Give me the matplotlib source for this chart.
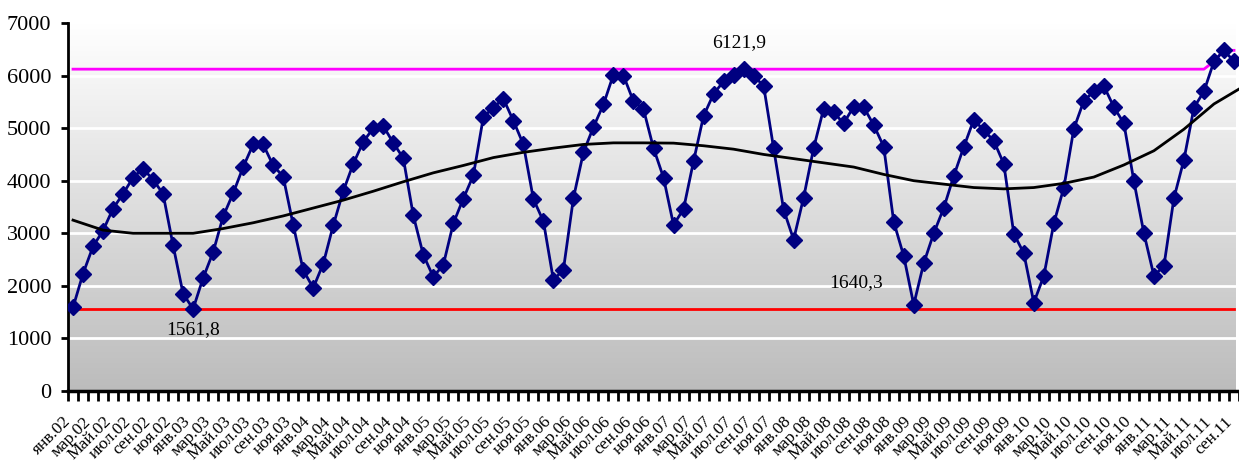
import numpy as np
import matplotlib
matplotlib.use("Agg")
import matplotlib.pyplot as plt
from matplotlib.colors import LinearSegmentedColormap
from matplotlib.transforms import ScaledTranslation

SERIF = ['Liberation Serif', 'DejaVu Serif']
plt.rcParams['font.family'] = SERIF

# ---------------- data ----------------
month_abbr = ["янв", "фев", "мар", "апр", "Май", "июн",
              "июл", "авг", "сен", "окт", "ноя", "дек"]
years = ["02", "03", "04", "05", "06", "07", "08", "09", "10", "11"]

values = [
    # 2002
    1590, 2230, 2750, 3050, 3470, 3750, 4060, 4230, 4020, 3750, 2770, 1850,
    # 2003
    1561.8, 2150, 2640, 3320, 3760, 4260, 4690, 4690, 4290, 4080, 3160, 2300,
    # 2004
    1960, 2420, 3150, 3800, 4320, 4740, 5000, 5040, 4720, 4430, 3340, 2590,
    # 2005
    2170, 2400, 3190, 3660, 4100, 5210, 5390, 5560, 5140, 4690, 3650, 3230,
    # 2006
    2110, 2310, 3670, 4540, 5020, 5450, 6020, 6000, 5510, 5360, 4620, 4060,
    # 2007
    3160, 3460, 4370, 5230, 5650, 5890, 6020, 6121.9, 5990, 5810, 4620, 3450,
    # 2008
    2880, 3680, 4620, 5370, 5300, 5090, 5410, 5400, 5060, 4650, 3220, 2570,
    # 2009
    1640.3, 2430, 3000, 3480, 4090, 4640, 5160, 4960, 4760, 4320, 2990, 2620,
    # 2010
    1680, 2190, 3190, 3870, 4990, 5520, 5700, 5800, 5400, 5090, 3990, 3000,
    # 2011
    2190, 2380, 3670, 4400, 5390, 5700, 6270, 6480, 6270,
]

trend_idx = [0, 3, 6, 9, 12, 15, 18, 21, 24, 27, 30, 33, 36, 39, 42, 45, 48,
             51, 54, 57, 60, 63, 66, 69, 72, 75, 78, 81, 84, 87, 90, 93, 96,
             99, 102, 105, 108, 111, 114, 117]
trend_val = [3250, 3060, 3000, 3000, 3000, 3090, 3200, 3330, 3480, 3630,
             3800, 3980, 4150, 4290, 4440, 4540, 4620, 4690, 4720, 4720,
             4715, 4665, 4600, 4500, 4420, 4340, 4260, 4120, 4000, 3935,
             3870, 3845, 3870, 3950, 4070, 4300, 4570, 4980, 5460, 5800]

min_level = 1561.8
max_level = 6121.9

annotations = [("1561,8", 12, 1160), ("6121,9", 66.6, 6630), ("1640,3", 78.2, 2060)]

# ---------------- derived ----------------
n = len(values)
x = np.arange(n)
labels_all = [f"{m}.{y}" for y in years for m in month_abbr][:n]
label_pos = list(range(0, n, 2))
label_txt = [labels_all[i] for i in label_pos]
upper = np.maximum(max_level, np.maximum.accumulate(np.array(values, float)))
lower = np.full(n, min_level)

# ---------------- figure ----------------
W, H = 1239, 463
fig = plt.figure(figsize=(W / 100, H / 100), dpi=100)
ax = fig.add_axes([68 / W, 1 - 391 / H, (W - 68) / W, (391 - 23) / H])

xlim = (-0.45, 116.1)
ylim = (0, 7000)

cmap = LinearSegmentedColormap.from_list("bg", ["#ffffff", "#bcbcbc"])
ax.imshow(np.linspace(0, 1, 256).reshape(-1, 1), cmap=cmap, aspect="auto",
          extent=[xlim[0], xlim[1], ylim[0], ylim[1]], origin="upper", zorder=0)

for yv in range(1000, 7001, 1000):
    ax.axhline(yv, color="white", lw=2, zorder=1)

ax.plot(x, lower, color="#ff0000", lw=2, zorder=2)
ax.plot(x, upper, color="#ff00ff", lw=2, zorder=2)
ax.plot(x, values, color="#000080", lw=2, marker="D", ms=8,
        markerfacecolor="#000080", markeredgecolor="#000080", zorder=3)
ax.plot(trend_idx, trend_val, color="black", lw=2, zorder=4)

for txt, xi, yi in annotations:
    ax.text(xi, yi, txt, ha="center", va="center", fontsize=14,
            family=SERIF, zorder=5)

ax.set_xlim(*xlim)
ax.set_ylim(*ylim)

for s in ["top", "right"]:
    ax.spines[s].set_visible(False)
ax.spines["left"].set_linewidth(2)
ax.spines["bottom"].set_linewidth(2.5)

ax.set_yticks(range(0, 7001, 1000))
ax.tick_params(axis="y", direction="out", length=5, width=2, labelsize=16, pad=7)
for lab in ax.get_yticklabels():
    lab.set_fontfamily(SERIF)

ax.set_xticks(label_pos)
ax.set_xticklabels(label_txt, rotation=45, ha="right", rotation_mode="anchor",
                   fontsize=12.5, family=SERIF)
ax.set_xticks(np.arange(-0.5, n, 1), minor=True)
ax.tick_params(axis="x", which="major", length=0, pad=12)
ax.tick_params(axis="x", which="minor", direction="out", length=7, width=2)
shift = ScaledTranslation(-10 / 100, -6 / 100, fig.dpi_scale_trans)
for lab in ax.get_xticklabels():
    lab.set_transform(lab.get_transform() + shift)

fig.savefig("out.png", dpi=100)
